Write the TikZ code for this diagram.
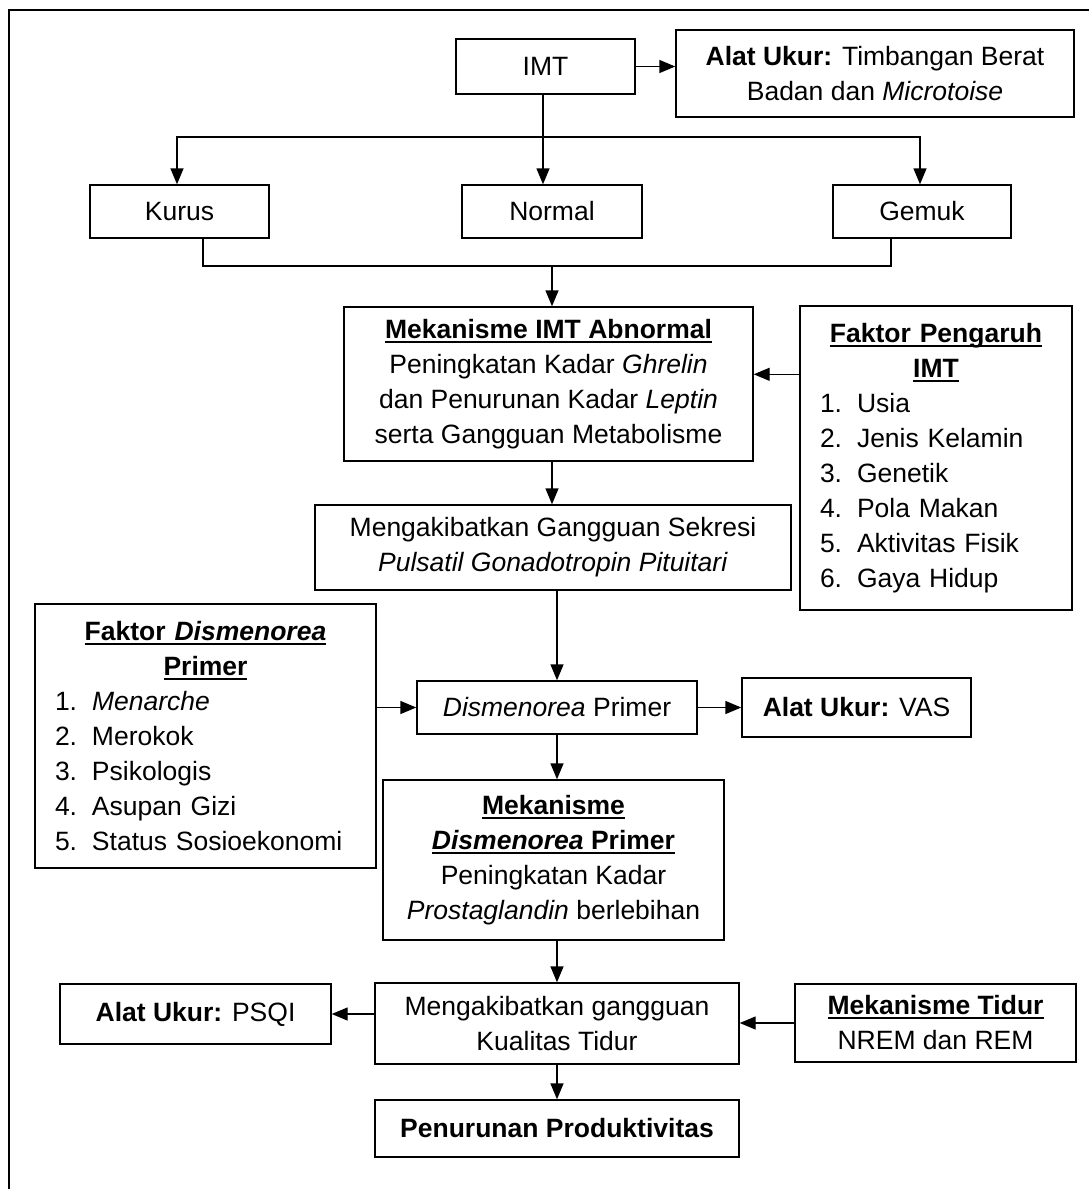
\documentclass[tikz,border=0pt]{standalone}
\usepackage{fontspec}
\setmainfont{Liberation Sans}
\usetikzlibrary{arrows.meta,calc}
\newcommand\hul[1]{\setbox0\hbox{#1}\rlap{\rule[-4.5pt]{\wd0}{2.2pt}}\box0}
\newcommand\itm[2]{\makebox[37pt][l]{#1}#2}
\begin{document}
\begin{tikzpicture}[x=1pt,y=-1pt,
  bx/.style={draw=black,line width=1.4pt,inner sep=0pt,align=center,
    font=\fontsize{26.5}{35}\selectfont},
  lst/.style={bx,align=left},
  arr/.style={line width=1.4pt,-{Triangle[length=16pt,width=13pt]}},
  ln/.style={line width=1.4pt}]
\useasboundingbox (0,0) rectangle (1089,1189);
\draw[line width=2.6pt] (1089,10) -- (9,10) -- (9,1189);

\node[bx,minimum width=179,minimum height=55] (imt) at (545.5,66.5) {IMT};
\node[bx,minimum width=398,minimum height=87] (alat) at (875,73.5)
  {\textbf{Alat Ukur:} Timbangan Berat\\Badan dan \textit{Microtoise}};
\node[bx,minimum width=179,minimum height=53] (kurus) at (179.5,211.5) {Kurus};
\node[bx,minimum width=180,minimum height=53] (normal) at (552,211.5) {Normal};
\node[bx,minimum width=178,minimum height=53] (gemuk) at (922,211.5) {Gemuk};
\node[bx,minimum width=409,minimum height=154] (mek) at (548.5,384)
  {\textbf{\hul{Mekanisme IMT Abnormal}}\\Peningkatan Kadar \textit{Ghrelin}\\
   dan Penurunan Kadar \textit{Leptin}\\serta Gangguan Metabolisme};
\node[lst,minimum width=272,minimum height=304,text width=232] (fp) at (936,458)
  {\centering\textbf{\hul{Faktor Pengaruh}}\\\textbf{\hul{IMT}}\par\raggedright
   \itm{1.}{Usia}\\\itm{2.}{Jenis Kelamin}\\\itm{3.}{Genetik}\\
   \itm{4.}{Pola Makan}\\\itm{5.}{Aktivitas Fisik}\\\itm{6.}{Gaya Hidup}\par};
\node[bx,minimum width=476,minimum height=85] (sek) at (553,547.5)
  {Mengakibatkan Gangguan Sekresi\\\textit{Pulsatil Gonadotropin Pituitari}};
\node[lst,minimum width=341,minimum height=264,text width=301] (fd) at (205.5,736)
  {\centering\textbf{\hul{Faktor \textit{Dismenorea}}}\\\textbf{\hul{Primer}}\par\raggedright
   \itm{1.}{\textit{Menarche}}\\\itm{2.}{Merokok}\\\itm{3.}{Psikologis}\\
   \itm{4.}{Asupan Gizi}\\\itm{5.}{Status Sosioekonomi}\par};
\node[bx,minimum width=280,minimum height=53] (dis) at (557,707.5)
  {\textit{Dismenorea} Primer};
\node[bx,minimum width=229,minimum height=59] (vas) at (856.5,707.5)
  {\textbf{Alat Ukur:} VAS};
\node[bx,minimum width=341,minimum height=160] (md) at (553.5,860)
  {\textbf{\hul{Mekanisme}}\\\textbf{\hul{\textit{Dismenorea} Primer}}\\
   Peningkatan Kadar\\\textit{Prostaglandin} berlebihan};
\node[bx,minimum width=364,minimum height=81] (kq) at (557,1023.5)
  {Mengakibatkan gangguan\\Kualitas Tidur};
\node[bx,minimum width=271,minimum height=60] (psqi) at (195.5,1014)
  {\textbf{Alat Ukur:} PSQI};
\node[bx,minimum width=281,minimum height=78] (mt) at (935.5,1023)
  {\textbf{\hul{Mekanisme Tidur}}\\NREM dan REM};
\node[bx,minimum width=364,minimum height=57] (pen) at (557,1128.5)
  {\textbf{Penurunan Produktivitas}};

% connectors
\draw[arr] (imt.east) -- (imt.east -| alat.west);
\coordinate (split) at (543,137);
\draw[ln] (imt.south -| split) -- (split);
\draw[arr] (split) -| (kurus.north -| 177,0);
\draw[arr] (split) -| (gemuk.north -| 920,0);
\draw[arr] (split) -- (split |- normal.north);
\coordinate (mj) at (552,266);
\draw[ln] (kurus.south -| 203,0) |- (mj) -| (gemuk.south -| 891,0);
\draw[arr] (mj) -- (mj |- mek.north);
\path (fp.north west) ++(0,69) coordinate (fpa);
\draw[arr] (fpa) -- (fpa -| mek.east);
\draw[arr] (mek.south -| 552,0) -- (sek.north -| 552,0);
\draw[arr] (sek.south -| dis.north) -- (dis.north);
\draw[arr] (dis.west -| fd.east) -- (dis.west);
\draw[arr] (dis.east) -- (vas.west);
\draw[arr] (dis.south) -- (dis.south |- md.north);
\draw[arr] (md.south -| kq.north) -- (kq.north);
\draw[arr] (kq.west |- psqi.east) -- (psqi.east);
\draw[arr] (mt.west) -- (mt.west -| kq.east);
\draw[arr] (kq.south) -- (pen.north);
\end{tikzpicture}
\end{document}
